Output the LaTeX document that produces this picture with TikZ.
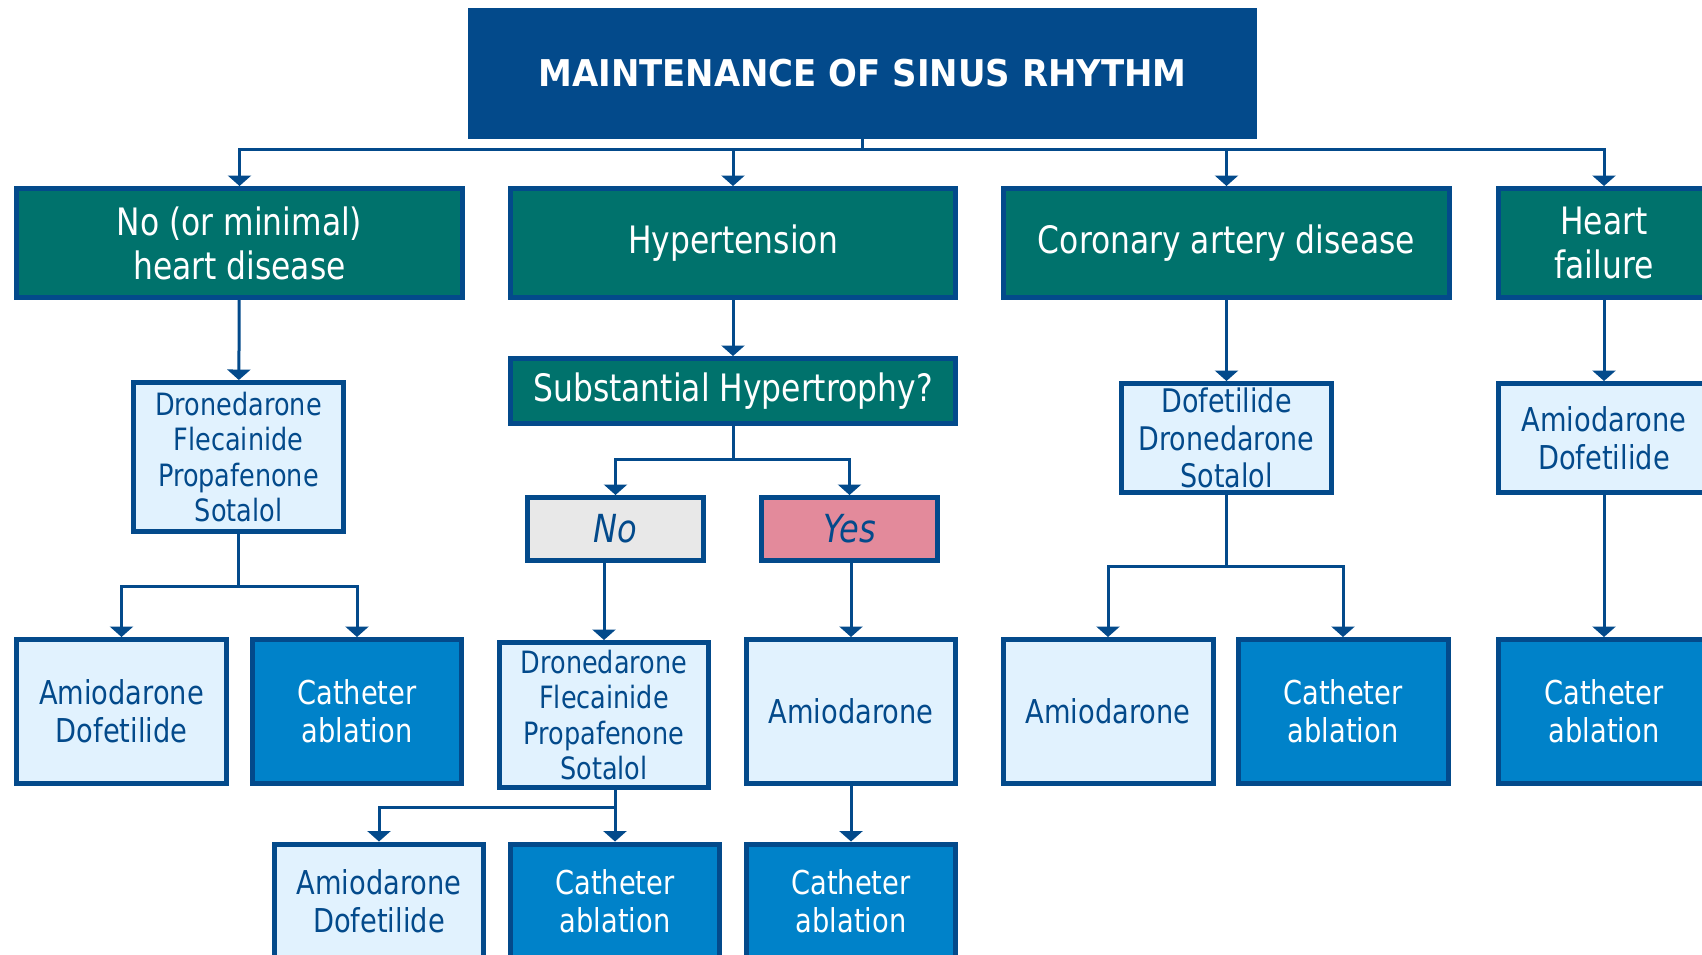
\documentclass[tikz,border=0pt]{standalone}
\usepackage{fontspec}
\setmainfont{DejaVu Sans}[FakeStretch=0.83]
\newfontfamily\titlefont{DejaVu Sans}[FakeStretch=0.92]
\usepackage{tikz}
\usetikzlibrary{arrows.meta, positioning}

\definecolor{escnavy}{RGB}{3,74,139}
\definecolor{escteal}{RGB}{0,114,108}
\definecolor{escblue}{RGB}{0,130,201}
\definecolor{esclight}{RGB}{225,242,254}
\definecolor{escgrey}{RGB}{232,232,232}
\definecolor{escpink}{RGB}{227,138,155}

\tikzset{
    boxbase/.style={draw=escnavy, line width=0.1cm, align=center, inner sep=0pt},
    topbox/.style={boxbase, fill=escnavy, text=white, minimum width=15.68cm, minimum height=2.52cm,
        font=\titlefont\bfseries\fontsize{21}{25}\selectfont},
    groupbox/.style={boxbase, fill=escteal, text=white, minimum height=2.18cm,
        font=\fontsize{21.5}{25}\selectfont},
    drugbox/.style={boxbase, fill=esclight, text=escnavy, minimum width=4.2cm,
        font=\fontsize{18.7}{21.5}\selectfont},
    ablationbox/.style={boxbase, fill=escblue, text=white, minimum width=4.2cm, minimum height=2.88cm,
        font=\fontsize{18.7}{21.5}\selectfont},
    answerbox/.style={boxbase, text=escnavy, minimum width=3.52cm, minimum height=1.26cm,
        font=\itshape\fontsize{22}{26}\selectfont},
    wire/.style={draw=escnavy, line width=0.06cm},
    link/.style={wire, -{Triangle[width=0.46cm, length=0.21cm]}}
}

\begin{document}
\begin{tikzpicture}[x=0.02cm, y=-0.02cm]
    \useasboundingbox (0,0) rectangle (1702,954);
    \clip (0,0) rectangle (1702,954);

    \node[topbox] (title) at (862.5,73.5) {MAINTENANCE OF SINUS RHYTHM};

    % groups
    \node[groupbox, minimum width=8.92cm] (nohd) at (239.5,243) {No (or minimal)\\heart disease};
    \node[groupbox, minimum width=8.92cm] (htn) at (733,243) {Hypertension};
    \node[groupbox, minimum width=8.92cm] (cad) at (1226.5,243) {Coronary artery disease};
    \node[groupbox, minimum width=4.22cm] (hf) at (1604,243) {Heart\\failure};

    % first line drugs
    \node[drugbox, minimum height=2.98cm, font=\fontsize{17.5}{20}\selectfont] (drugsA) at (238.5,457)
        {Dronedarone\\Flecainide\\Propafenone\\Sotalol};
    \node[groupbox, minimum width=8.9cm, minimum height=1.3cm] (lvh) at (733,391) {Substantial Hypertrophy?};
    \node[drugbox, minimum height=2.18cm, font=\fontsize{18.5}{21.5}\selectfont] (drugsC) at (1226.5,438)
        {Dofetilide\\Dronedarone\\Sotalol};
    \node[drugbox, minimum width=4.22cm, minimum height=2.18cm] (drugsD) at (1604,438)
        {Amiodarone\\Dofetilide};

    \node[answerbox, fill=escgrey] (no) at (615.5,529) {No};
    \node[answerbox, fill=escpink] (yes) at (849.5,529) {Yes};

    % second line
    \node[drugbox, minimum height=2.88cm] (amdofA) at (121.5,711.5) {Amiodarone\\Dofetilide};
    \node[ablationbox] (cathA) at (357,711.5) {Catheter\\ablation};
    \node[drugbox, minimum height=2.9cm, font=\fontsize{17.5}{20}\selectfont] (drugsNo) at (604,715)
        {Dronedarone\\Flecainide\\Propafenone\\Sotalol};
    \node[drugbox, minimum height=2.88cm] (amYes) at (851,711.5) {Amiodarone};
    \node[drugbox, minimum height=2.88cm] (amC) at (1108,711.5) {Amiodarone};
    \node[ablationbox] (cathC) at (1343,711.5) {Catheter\\ablation};
    \node[ablationbox, minimum width=4.22cm] (cathD) at (1604,711.5) {Catheter\\ablation};

    % third line
    \node[drugbox, minimum height=2.28cm] (amdofNo) at (379,901) {Amiodarone\\Dofetilide};
    \node[ablationbox, minimum height=2.28cm] (cathNo) at (615,901) {Catheter\\ablation};
    \node[ablationbox, minimum height=2.28cm] (cathYes) at (851,901) {Catheter\\ablation};

    % connectors
    \coordinate (bus) at (862.5,149);
    \draw[wire] (title.south) -- (bus);
    \draw[link] (bus) -| (nohd.north);
    \draw[link] (bus) -| (htn.north);
    \draw[link] (bus) -| (cad.north);
    \draw[link] (bus) -| (hf.north);

    \draw[link] (nohd) -- (drugsA);
    \coordinate (forkA) at (238.5,586);
    \draw[wire] (drugsA) -- (forkA);
    \draw[link] (forkA) -| (amdofA.north);
    \draw[link] (forkA) -| (cathA.north);

    \draw[link] (htn) -- (lvh);
    \coordinate (forkLvh) at (733,459);
    \draw[wire] (lvh) -- (forkLvh);
    \draw[link] (forkLvh) -| (no.north);
    \draw[link] (forkLvh) -| (yes.north);
    \draw[link] (no.south -| drugsNo.north) -- (drugsNo.north);
    \draw[link] (yes.south -| amYes.north) -- (amYes.north);
    \coordinate (forkNo) at (615,807);
    \draw[wire] (drugsNo.south -| forkNo) -- (forkNo);
    \draw[link] (forkNo) -| (amdofNo.north);
    \draw[link] (forkNo) -- (cathNo.north);
    \draw[link] (amYes) -- (cathYes);

    \draw[link] (cad) -- (drugsC);
    \coordinate (forkC) at (1226.5,566);
    \draw[wire] (drugsC) -- (forkC);
    \draw[link] (forkC) -| (amC.north);
    \draw[link] (forkC) -| (cathC.north);

    \draw[link] (hf) -- (drugsD);
    \draw[link] (drugsD) -- (cathD);
\end{tikzpicture}
\end{document}
